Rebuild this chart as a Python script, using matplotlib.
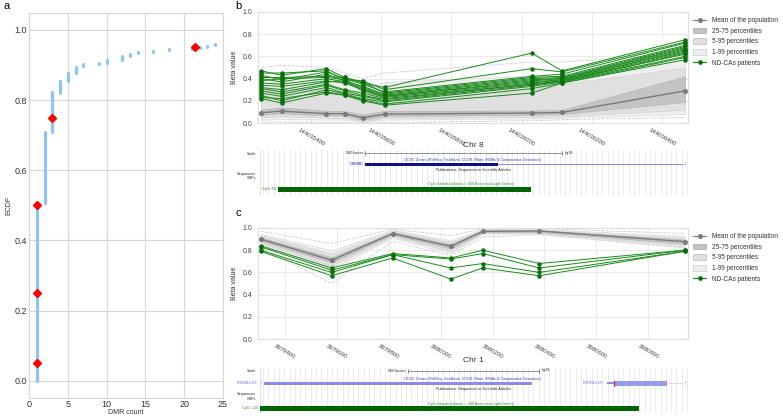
import numpy as np
import matplotlib
matplotlib.use('Agg')
import matplotlib.pyplot as plt
from matplotlib.patches import Patch, Rectangle
from matplotlib.lines import Line2D

plt.rcParams['font.family'] = ['Liberation Sans', 'DejaVu Sans']

W, H = 783, 416

# ---- panel a: ECDF of DMR counts
dmr_count = [1, 2, 3, 4, 5, 6, 7, 9, 10, 12, 13, 14, 16, 17, 18, 21, 22, 23, 24]
ecdf_lo = [0.0, 0.508, 0.710, 0.821, 0.853, 0.877, 0.897, 0.903, 0.905, 0.915, 0.926, 0.933, 0.936, 0.939, 0.943, 0.946, 0.949, 0.952, 0.956]
ecdf_hi = [0.508, 0.710, 0.824, 0.855, 0.878, 0.895, 0.904, 0.906, 0.915, 0.926, 0.932, 0.936, 0.939, 0.941, 0.946, 0.949, 0.951, 0.955, 0.959]
quant_x = [1, 1, 1, 3, 21.4]
quant_y = [0.05, 0.25, 0.50, 0.75, 0.95]

# ---- panel b: chr 8 region
pos_b = [144035258, 144035316, 144035444, 144035496, 144035547, 144035610, 144036029, 144036115, 144036466]
mean_b = [0.093, 0.107, 0.084, 0.084, 0.047, 0.080, 0.090, 0.095, 0.290]
p25_b = [0.075, 0.088, 0.068, 0.068, 0.030, 0.064, 0.074, 0.080, 0.190]
p75_b = [0.120, 0.140, 0.110, 0.108, 0.075, 0.110, 0.112, 0.118, 0.420]
p5_b = [0.050, 0.060, 0.048, 0.048, 0.012, 0.045, 0.055, 0.060, 0.120]
p95_b = [0.300, 0.320, 0.300, 0.280, 0.240, 0.280, 0.340, 0.350, 0.500]
p1_b = [0.030, 0.035, 0.030, 0.030, 0.005, 0.030, 0.040, 0.045, 0.080]
p99_b = [0.400, 0.420, 0.390, 0.360, 0.330, 0.370, 0.430, 0.430, 0.570]
min_b = [0.010, 0.010, 0.005, 0.005, -0.010, 0.005, 0.020, 0.030, 0.050]
max_b = [0.500, 0.520, 0.500, 0.450, 0.400, 0.450, 0.550, 0.550, 0.620]
patients_b = [
    [0.47, 0.43, 0.49, 0.41, 0.36, 0.32, 0.63, 0.47, 0.75],
    [0.45, 0.45, 0.47, 0.39, 0.38, 0.30, 0.49, 0.46, 0.73],
    [0.43, 0.39, 0.46, 0.40, 0.35, 0.28, 0.42, 0.44, 0.72],
    [0.41, 0.41, 0.42, 0.41, 0.37, 0.27, 0.41, 0.42, 0.70],
    [0.40, 0.37, 0.44, 0.38, 0.33, 0.26, 0.40, 0.41, 0.69],
    [0.38, 0.40, 0.41, 0.39, 0.32, 0.25, 0.39, 0.40, 0.68],
    [0.36, 0.35, 0.40, 0.37, 0.31, 0.24, 0.38, 0.40, 0.67],
    [0.34, 0.33, 0.38, 0.36, 0.30, 0.24, 0.37, 0.39, 0.66],
    [0.32, 0.30, 0.37, 0.38, 0.29, 0.23, 0.36, 0.39, 0.65],
    [0.31, 0.28, 0.35, 0.30, 0.27, 0.22, 0.35, 0.38, 0.64],
    [0.29, 0.26, 0.34, 0.29, 0.25, 0.21, 0.35, 0.37, 0.63],
    [0.27, 0.24, 0.32, 0.27, 0.24, 0.20, 0.34, 0.38, 0.62],
    [0.25, 0.20, 0.30, 0.26, 0.22, 0.19, 0.33, 0.37, 0.60],
    [0.23, 0.22, 0.28, 0.25, 0.21, 0.17, 0.31, 0.36, 0.59],
    [0.22, 0.18, 0.27, 0.25, 0.20, 0.16, 0.27, 0.36, 0.57],
]
xticks_b = [144035400, 144035600, 144035800, 144036000, 144036200, 144036400]

# ---- panel c: chr 1 region
pos_c = [2979306, 2979580, 2979815, 2980039, 2980162, 2980380, 2980940]
mean_c = [0.900, 0.710, 0.950, 0.835, 0.970, 0.973, 0.877]
p25_c = [0.885, 0.690, 0.940, 0.815, 0.962, 0.965, 0.860]
p75_c = [0.915, 0.735, 0.962, 0.855, 0.978, 0.980, 0.895]
p5_c = [0.865, 0.660, 0.925, 0.790, 0.955, 0.955, 0.845]
p95_c = [0.935, 0.770, 0.975, 0.875, 0.985, 0.985, 0.910]
p1_c = [0.850, 0.630, 0.910, 0.770, 0.950, 0.950, 0.830]
p99_c = [0.950, 0.800, 0.985, 0.890, 0.990, 0.990, 0.930]
min_c = [0.820, 0.500, 0.880, 0.750, 0.920, 0.940, 0.820]
max_c = [0.970, 0.860, 0.990, 0.930, 0.995, 0.995, 0.950]
patients_c = [
    [0.84, 0.64, 0.77, 0.73, 0.80, 0.68, 0.80],
    [0.83, 0.62, 0.76, 0.72, 0.77, 0.64, 0.80],
    [0.80, 0.60, 0.76, 0.64, 0.68, 0.60, 0.79],
    [0.79, 0.57, 0.73, 0.54, 0.64, 0.57, 0.79],
]
xticks_c = [2979400, 2979600, 2979800, 2980000, 2980200, 2980400, 2980600, 2980800]

legend_labels = ['Mean of the population', '25-75 percentiles', '5-95 percentiles',
                 '1-99 percentiles', 'ND-CAs patients']


def px_axes(fig, x0, y0, x1, y1):
    return fig.add_axes([x0 / W, 1 - y1 / H, (x1 - x0) / W, (y1 - y0) / H])


fig = plt.figure(figsize=(W / 100, H / 100), dpi=100)

# ---------------- a
ax = px_axes(fig, 29, 12.7, 223, 397.7)
ax.vlines(dmr_count, ecdf_lo, ecdf_hi, color='#90c4f4', lw=2.3, capstyle='round', zorder=3)
ax.plot(quant_x, quant_y, 'D', color='red', ms=3.6, zorder=4)
ax.set_xlim(0, 25)
ax.set_ylim(-0.048, 1.049)
ax.set_xticks([0, 5, 10, 15, 20, 25])
ax.set_yticks([0, 0.2, 0.4, 0.6, 0.8, 1.0])
ax.grid(color='#d6d6d6', lw=0.8)
ax.set_axisbelow(True)
for s in ax.spines.values():
    s.set_color('#d6d6d6')
    s.set_linewidth(0.8)
ax.tick_params(length=0, labelsize=6.5, colors='#333333', pad=1.5)
ax.set_xlabel('DMR count', fontsize=5, color='#333333', labelpad=0)
ax.set_ylabel('ECDF', fontsize=5, color='#333333', labelpad=1.5)


def meth_panel(ax, pos, mean, p25, p75, p5, p95, p1, p99, vmin, vmax, patients, xticks, chrom, chrom_y):
    ax.fill_between(pos, p1, p99, color='#eeeeee', lw=0.4, edgecolor='#d8d8d8', zorder=1)
    ax.fill_between(pos, p5, p95, color='#e0e0e0', lw=0.4, edgecolor='#cfcfcf', zorder=1)
    ax.fill_between(pos, p25, p75, color='#c4c4c4', lw=0.4, edgecolor='#b0b0b0', zorder=1)
    ax.plot(pos, vmin, ls='--', color='#cccccc', lw=0.6, zorder=1)
    ax.plot(pos, vmax, ls='--', color='#cccccc', lw=0.6, zorder=1)
    ax.plot(pos, mean, '-o', color='#7a7a7a', lw=1.0, ms=2.6, zorder=2)
    for row in patients:
        ax.plot(pos, row, '-o', color='#1b8a1b', lw=0.7, ms=2.2, mfc='#0b6e0b', mec='#0b6e0b', zorder=3)
    ax.set_ylim(0, 1)
    ax.set_yticks([0, 0.2, 0.4, 0.6, 0.8, 1.0])
    ax.set_xticks(xticks)
    ax.set_xticklabels([str(t) for t in xticks], rotation=-30, ha='center', va='top')
    ax.grid(color='#e6e6e6', lw=0.6)
    ax.set_axisbelow(True)
    for s in ax.spines.values():
        s.set_color('#dddddd')
        s.set_linewidth(0.8)
    ax.tick_params(axis='y', length=0, labelsize=5, colors='#444444', pad=4)
    ax.tick_params(axis='x', length=0, labelsize=4.3, colors='#444444', pad=3)
    ax.set_ylabel('Beta value', fontsize=5, color='#333333', labelpad=3)
    ax.text(0.5, chrom_y, chrom, transform=ax.transAxes, ha='center', va='center', fontsize=6, color='#333333')
    handles = [
        Line2D([], [], color='#7a7a7a', marker='o', ms=2.6, lw=0.8),
        Patch(facecolor='#c4c4c4', edgecolor='#aaaaaa', lw=0.5),
        Patch(facecolor='#e0e0e0', edgecolor='#bbbbbb', lw=0.5),
        Patch(facecolor='#eeeeee', edgecolor='#c8c8c8', lw=0.5),
        Line2D([], [], color='#1b8a1b', marker='o', ms=2.4, mfc='#0b6e0b', mec='#0b6e0b', lw=0.8),
    ]
    ax.legend(handles, legend_labels, loc='upper left', bbox_to_anchor=(1.011, 0.955), frameon=False,
              fontsize=4.7, borderpad=0, borderaxespad=0, handlelength=2.1, handleheight=0.95,
              handletextpad=0.8, labelspacing=0.55, labelcolor='#333333')


ax_b = px_axes(fig, 258, 12, 688, 123)
meth_panel(ax_b, pos_b, mean_b, p25_b, p75_b, p5_b, p95_b, p1_b, p99_b, min_b, max_b,
           patients_b, xticks_b, 'Chr 8', -0.2)
ax_b.set_xlim(144035249, 144036474)

ax_c = px_axes(fig, 258, 228, 688, 339)
meth_panel(ax_c, pos_c, mean_c, p25_c, p75_c, p5_c, p95_c, p1_c, p99_c, min_c, max_c,
           patients_c, xticks_c, 'Chr 1', -0.19)
ax_c.set_xlim(2979296, 2980953)


# ---------------- genome browser tracks (decorative, drawn in pixel space)
def track_base(y0, y1):
    t = px_axes(fig, 258, y0, 688, y1)
    t.set_xlim(258, 688)
    t.set_ylim(y1, y0)
    t.axis('off')
    for xv in np.arange(263, 688, 5.3):
        t.plot([xv, xv], [y0 + 2, y1 - 2], color='#e2e2f2', lw=0.5, zorder=0)
    t.plot([259.7, 259.7], [y0 + 2, y1 - 2], color='#f2c8c8', lw=0.5, zorder=0)
    return t


fs = 2.7
tb = track_base(148, 197)
tb.text(256, 154, 'Scale', ha='right', va='center', fontsize=fs, color='#222222')
tb.text(363, 153, '500 bases', ha='right', va='center', fontsize=fs, color='#222222')
tb.plot([365, 562], [153, 153], color='#444444', lw=0.4)
tb.plot([365, 365], [151, 155], color='#444444', lw=0.4)
tb.plot([562, 562], [151, 155], color='#444444', lw=0.4)
tb.text(565, 153, 'hg19', ha='left', va='center', fontsize=fs, color='#222222')
tb.text(473, 159.5, 'UCSC Genes (RefSeq, GenBank, CCDS, Rfam, tRNAs & Comparative Genomics)',
        ha='center', va='center', fontsize=fs, color='#3c3ca8')
tb.text(363, 164.5, 'GSDMD', ha='right', va='center', fontsize=fs, color='#1a1a8c')
tb.add_patch(Rectangle((365, 163), 133, 3, color='#10108a', lw=0))
tb.plot([498, 683], [164.5, 164.5], color='#5a5ac8', lw=0.5)
tb.text(686, 164.5, '[]', ha='center', va='center', fontsize=fs, color='#5a5ac8')
tb.text(473, 170, 'Publications: Sequences in Scientific Articles', ha='center', va='center',
        fontsize=fs, color='#222222')
tb.text(256, 173.7, 'Sequences', ha='right', va='center', fontsize=fs, color='#222222')
tb.text(256, 178.3, 'SNPs', ha='right', va='center', fontsize=fs, color='#222222')
tb.text(471, 184.5, 'CpG Islands (Islands < 300 Bases are Light Green)', ha='center', va='center',
        fontsize=fs, color='#2e8b2e')
tb.text(276, 189.3, 'CpG: 59', ha='right', va='center', fontsize=fs, color='#2e8b2e')
tb.add_patch(Rectangle((277.7, 187), 253.3, 4.8, color='#006400', lw=0))

tc = track_base(366, 414)
tc.text(256, 371, 'Scale', ha='right', va='center', fontsize=fs, color='#222222')
tc.text(406, 370.5, '500 bases', ha='right', va='center', fontsize=fs, color='#222222')
tc.plot([408, 539], [370.5, 370.5], color='#444444', lw=0.4)
tc.plot([408, 408], [368.5, 372.5], color='#444444', lw=0.4)
tc.plot([539, 539], [368.5, 372.5], color='#444444', lw=0.4)
tc.text(542, 370.5, 'hg19', ha='left', va='center', fontsize=fs, color='#222222')
tc.text(473, 379, 'UCSC Genes (RefSeq, GenBank, CCDS, Rfam, tRNAs & Comparative Genomics)',
        ha='center', va='center', fontsize=fs, color='#3c3ca8')
tc.text(258, 383, 'PRDM16-DT', ha='right', va='center', fontsize=fs, color='#7272d0')
tc.text(262, 383, '[]', ha='center', va='center', fontsize=fs, color='#7272d0')
tc.add_patch(Rectangle((264, 381.5), 268, 3, color='#8c8ce2', lw=0))
tc.text(604, 383, 'PRDM16-DT', ha='right', va='center', fontsize=fs, color='#7272d0')
tc.add_patch(Rectangle((607, 382), 7, 2, color='#8c8ce2', lw=0))
tc.add_patch(Rectangle((614, 380.5), 53, 5, color='#9a9ae8', lw=0))
tc.plot([613.5, 613.5], [380.5, 385.5], color='#dd2222', lw=0.8)
tc.plot([667, 683], [383, 383], color='#8c8ce2', lw=0.5, ls=':')
tc.text(686, 383, '[]', ha='center', va='center', fontsize=fs, color='#7272d0')
tc.text(473, 389, 'Publications: Sequences in Scientific Articles', ha='center', va='center',
        fontsize=fs, color='#222222')
tc.text(256, 394, 'Sequences', ha='right', va='center', fontsize=fs, color='#222222')
tc.text(256, 398.5, 'SNPs', ha='right', va='center', fontsize=fs, color='#222222')
tc.text(471, 404, 'CpG Islands (Islands < 300 Bases are Light Green)', ha='center', va='center',
        fontsize=fs, color='#2e8b2e')
tc.text(258, 408.3, 'CpG: 126', ha='right', va='center', fontsize=fs, color='#2e8b2e')
tc.add_patch(Rectangle((260, 405.5), 379, 5.5, color='#006400', lw=0))

# panel letters
fig.text(3 / W, 1 - 6 / H, 'a', fontsize=8, va='center', ha='left')
fig.text(235 / W, 1 - 6 / H, 'b', fontsize=8, va='center', ha='left')
fig.text(235 / W, 1 - 213 / H, 'c', fontsize=8, va='center', ha='left')

fig.savefig('out.png', dpi=100)
